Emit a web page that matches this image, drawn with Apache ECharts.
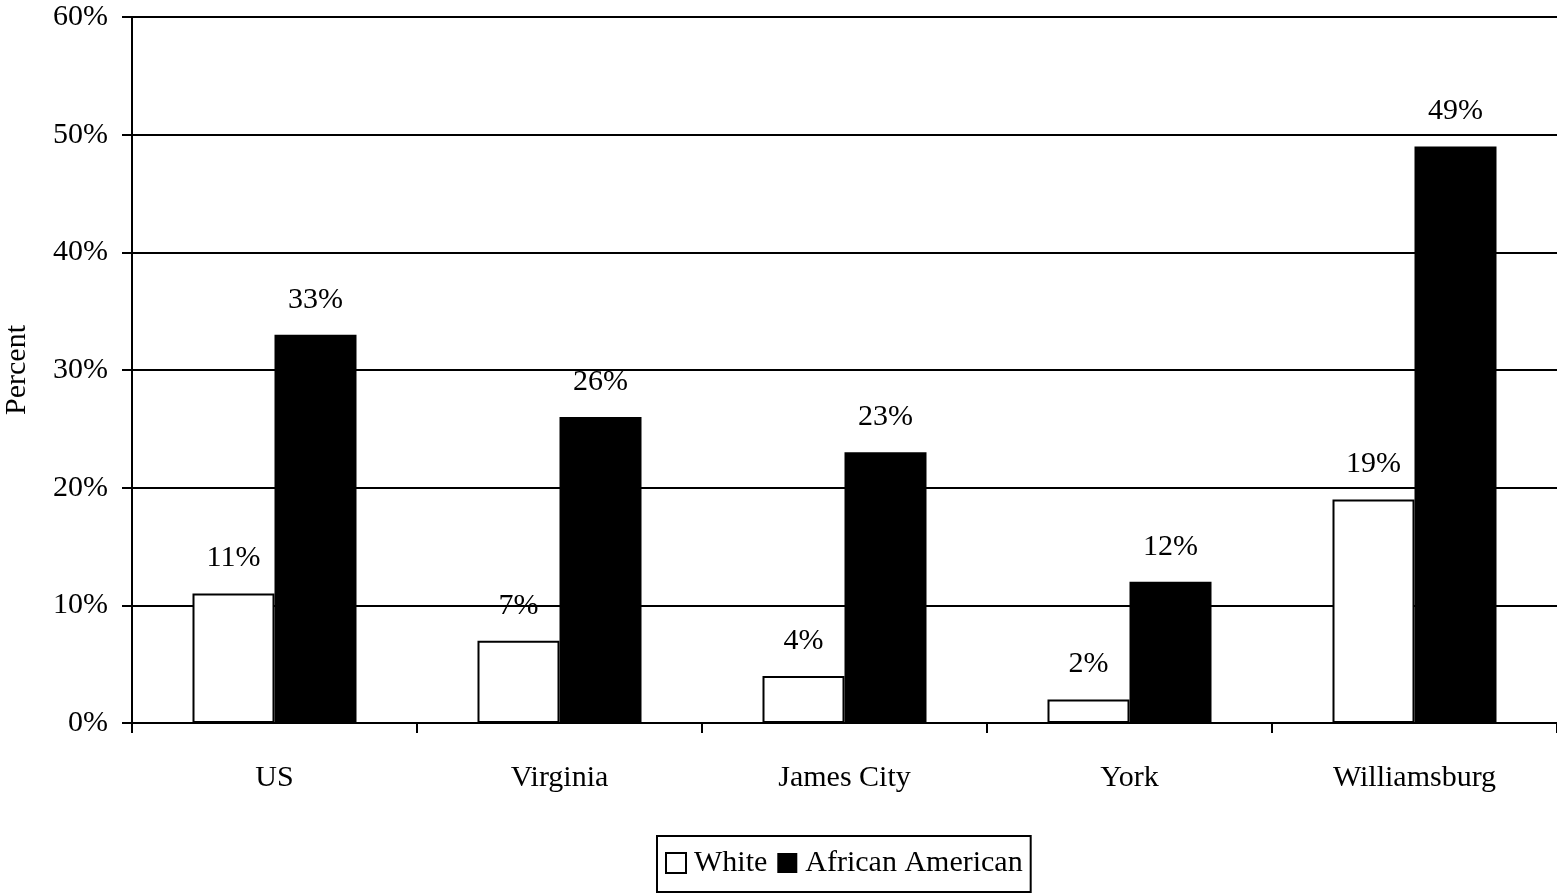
<!DOCTYPE html>
<html><head><meta charset="utf-8">
<script src="https://cdn.jsdelivr.net/npm/echarts@6/dist/echarts.min.js"></script>
<style>html,body{margin:0;padding:0;background:#fff}#c{width:1557px;height:893px}</style>
</head><body><div id="c"></div>
<script>
const categories = ['US', 'Virginia', 'James City', 'York', 'Williamsburg'];
const white = [11, 7, 4, 2, 19];
const africanAmerican = [33, 26, 23, 12, 49];
const yTicks = [0, 10, 20, 30, 40, 50, 60];

const font = 'Liberation Serif';
const fs = 30;
const chart = echarts.init(document.getElementById('c'), null, {renderer: 'canvas'});
chart.setOption({
  animation: false,
  backgroundColor: '#fff',
  textStyle: {fontFamily: font, color: '#000'},
  grid: {left: 132, right: 0, top: 17, bottom: 170, containLabel: false, outerBoundsMode: 'none'},
  legend: {
    left: 657, top: 836,
    itemWidth: 20, itemHeight: 20, itemGap: 10,
    icon: 'rect',
    borderColor: '#000', borderWidth: 2, padding: [12, 8, 14, 8],
    textStyle: {fontFamily: font, fontSize: fs, color: '#000', padding: [0, 0, 0, 3]},
    data: ['White', 'African American']
  },
  xAxis: {
    type: 'category', data: categories,
    axisLine: {lineStyle: {color: '#000', width: 2}},
    axisTick: {show: true, length: 10, lineStyle: {color: '#000', width: 2}},
    axisLabel: {fontFamily: font, fontSize: fs, color: '#000', margin: 40}
  },
  yAxis: {
    type: 'value', min: yTicks[0], max: yTicks[yTicks.length - 1], interval: 10,
    name: 'Percent', nameLocation: 'middle', nameGap: 100, nameRotate: 90,
    nameTextStyle: {fontFamily: font, fontSize: fs, color: '#000'},
    axisLine: {show: true, lineStyle: {color: '#000', width: 2}},
    axisTick: {show: true, length: 10, lineStyle: {color: '#000', width: 2}},
    axisLabel: {fontFamily: font, fontSize: fs, color: '#000', margin: 24, formatter: '{value}%'},
    splitLine: {show: true, lineStyle: {color: '#000', width: 2}}
  },
  series: [
    {
      name: 'White', type: 'bar', data: white, barWidth: 82, barGap: '0%',
      itemStyle: {color: '#fff', borderColor: '#000', borderWidth: 2},
      label: {show: true, position: 'top', distance: 20, formatter: '{c}%', fontFamily: font, fontSize: fs, color: '#000'}
    },
    {
      name: 'African American', type: 'bar', data: africanAmerican, barWidth: 82, barGap: '0%',
      itemStyle: {color: '#000', borderColor: '#000', borderWidth: 0},
      label: {show: true, position: 'top', distance: 20, formatter: '{c}%', fontFamily: font, fontSize: fs, color: '#000'}
    }
  ]
});
</script></body></html>
